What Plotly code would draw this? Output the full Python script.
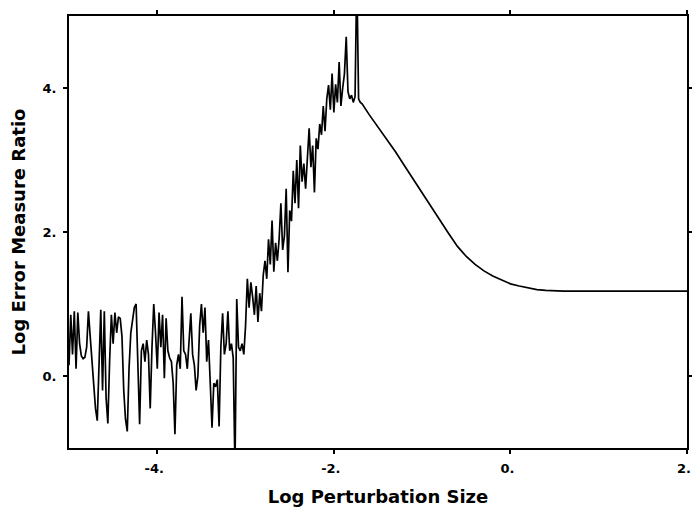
import numpy as np
import plotly.graph_objects as go

# noisy region, sampled every 0.02 in log perturbation size (-5.00 .. -1.70)
noisy_x = np.round(np.arange(-5.0, -1.69, 0.02), 2)
noisy_y = [
    0.15, 0.85, 0.30, 0.90, 0.10, 0.88, 0.45, 0.28, 0.24, 0.26,
    0.40, 0.90, 0.55, 0.20, -0.10, -0.45, -0.62, 0.10, 0.92, -0.20,
    0.90, -0.30, -0.66, 0.20, 0.85, 0.45, 0.88, 0.60, 0.82, 0.80,
    0.55, -0.20, -0.60, -0.77, 0.10, 0.60, 0.80, 0.95, 1.00, 0.30,
    -0.67, 0.35, 0.45, 0.20, 0.50, 0.30, -0.45, 0.40, 1.00, 0.60,
    0.10, 0.88, 0.40, 0.85, -0.03, 0.80, 0.35, 0.25, 0.20, -0.10,
    -0.81, 0.15, 0.30, 0.10, 1.10, 0.35, 0.30, 0.10, 0.45, 0.87,
    0.30, 0.15, -0.20, 0.00, 0.70, 1.00, 0.60, 0.95, 0.20, 0.50,
    -0.10, -0.72, -0.10, -0.15, -0.05, -0.70, 0.40, 0.87, 0.30, 0.45,
    0.90, 0.35, 0.45, 0.25, -1.30, 1.07, 0.40, 0.35, 0.45, 0.30,
    0.70, 1.35, 0.95, 1.30, 1.10, 0.85, 1.25, 0.75, 1.15, 0.90,
    1.40, 1.60, 1.35, 1.90, 1.55, 2.16, 1.45, 1.85, 1.60, 1.90,
    2.40, 1.75, 1.95, 2.60, 1.44, 2.30, 2.15, 2.85, 2.40, 3.00,
    2.33, 3.20, 2.70, 2.95, 2.60, 3.00, 3.44, 2.90, 3.20, 2.55,
    3.30, 3.15, 3.50, 3.35, 3.75, 3.40, 3.85, 4.04, 3.70, 4.20,
    3.66, 4.05, 3.80, 4.36, 3.75, 4.00, 4.20, 4.71, 3.95, 3.85,
    3.90, 3.80, 3.88, 5.60, 3.85, 3.80,
]

# smooth tail
smooth_x = [-1.68, -1.6, -1.5, -1.4, -1.3, -1.2, -1.1, -1.0, -0.9, -0.8,
            -0.7, -0.6, -0.5, -0.4, -0.3, -0.2, -0.1, 0.0, 0.1, 0.2,
            0.3, 0.4, 0.6, 1.0, 1.5, 2.0]
smooth_y = [3.78, 3.63, 3.46, 3.29, 3.11, 2.92, 2.73, 2.54, 2.35, 2.16,
            1.98, 1.80, 1.66, 1.55, 1.46, 1.39, 1.33, 1.28, 1.25, 1.22,
            1.20, 1.19, 1.18, 1.18, 1.18, 1.18]

x_tickvals = [-4, -2, 0, 2]
x_ticktext = ["-4.", "-2.", "0.", "2."]
y_tickvals = [0, 2, 4]
y_ticktext = ["0.", "2.", "4."]

fig = go.Figure()
fig.add_trace(go.Scatter(
    x=list(noisy_x) + smooth_x,
    y=noisy_y + smooth_y,
    mode="lines",
    line=dict(color="black", width=1.7),
    showlegend=False,
))

title_font = dict(family="DejaVu Sans", size=18, color="black", weight="bold")
axis_common = dict(
    showline=True, linecolor="black", linewidth=2, mirror="ticks",
    showgrid=False, zeroline=False,
    ticks="outside", ticklen=4, tickwidth=1.5, tickcolor="black",
    tickfont=dict(family="DejaVu Sans", size=13, color="black", weight="bold"),
    ticklabeloverflow="allow",
    automargin=False,
)

fig.update_xaxes(
    range=[-5, 2], tickvals=x_tickvals, ticktext=x_ticktext,
    ticklabelstandoff=3, ticklabelshift=-3,
    title=dict(text="Log Perturbation Size", standoff=16, font=title_font),
    **axis_common,
)
fig.update_yaxes(
    range=[-1, 5], tickvals=y_tickvals, ticktext=y_ticktext,
    ticklabelstandoff=4,
    title=dict(text="Log Error Measure Ratio", standoff=12, font=title_font),
    **axis_common,
)

fig.update_layout(
    width=692, height=509,
    margin=dict(l=69, r=5, t=16, b=61),
    paper_bgcolor="white", plot_bgcolor="white",
)

# drop the page's default body margin so the figure sits at the window's corner
fig.write_html("out.html", config={"displayModeBar": False},
               post_script="document.body.style.margin='0';")
